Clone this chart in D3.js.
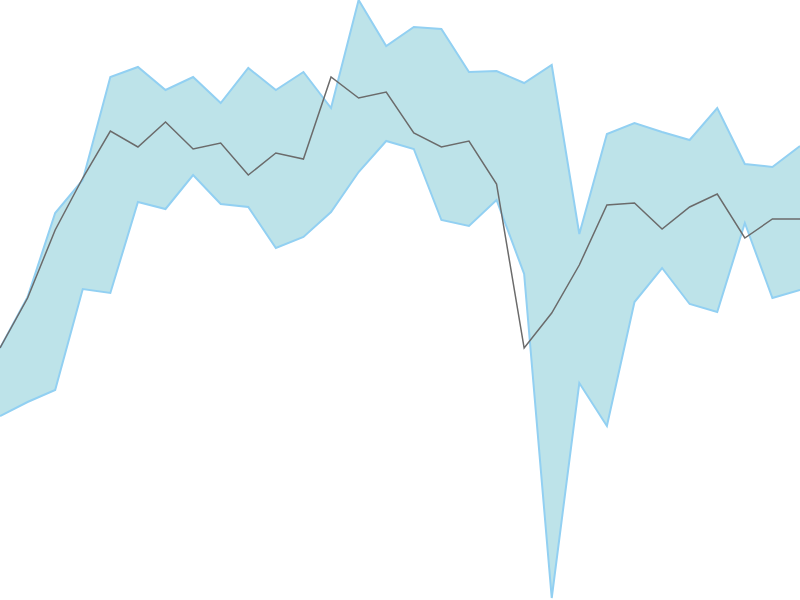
<!DOCTYPE html>
<html>
<head>
<meta charset="utf-8">
<script src="https://d3js.org/d3.v7.min.js"></script>
<style>
  html, body { margin: 0; padding: 0; background: #fff; }
  svg { display: block; }
</style>
</head>
<body>
<svg id="chart" width="800" height="600"></svg>
<script>
  const W = 800, H = 600;

  // values (higher = up)
  const upper = [252, 303, 387, 420, 523, 533, 510, 523, 497, 532, 510, 528, 492, 600, 554, 573, 571, 528, 529, 517, 535, 366, 466, 477, 468, 460, 492, 436, 433, 454];
  const lower = [184, 198, 210, 311, 307, 398, 391, 425, 396, 393, 352, 363, 388, 428, 459, 451, 380, 374, 400, 326, 2, 217, 174, 298, 332, 296, 288, 377, 302, 310];
  const mid   = [252, 302, 370, 422, 469, 453, 478, 451, 457, 425, 447, 441, 523, 502, 508, 467, 453, 459, 416, 252, 287, 335, 395, 397, 371, 393, 406, 362, 381, 381];

  const idx = d3.range(mid.length);
  const x = d3.scaleLinear().domain([0, idx.length - 1]).range([0, W]);
  const y = d3.scaleLinear().domain([0, 600]).range([H, 0]);

  const svg = d3.select('#chart');

  const band = d3.area()
    .x(i => x(i))
    .y0(i => y(lower[i]))
    .y1(i => y(upper[i]));

  svg.append('path')
    .datum(idx)
    .attr('d', band)
    .attr('fill', '#bde3e9');

  // band edges drawn as two separate lines, no vertical caps
  [upper, lower].forEach(arr => {
    svg.append('path')
      .datum(idx)
      .attr('d', d3.line().x(i => x(i)).y(i => y(arr[i])))
      .attr('fill', 'none')
      .attr('stroke', '#92d0f2')
      .attr('stroke-width', 2);
  });

  const line = d3.line()
    .x(i => x(i))
    .y(i => y(mid[i]));

  svg.append('path')
    .datum(idx)
    .attr('d', line)
    .attr('fill', 'none')
    .attr('stroke', '#6b6b6b')
    .attr('stroke-width', 1.5);
</script>
</body>
</html>
